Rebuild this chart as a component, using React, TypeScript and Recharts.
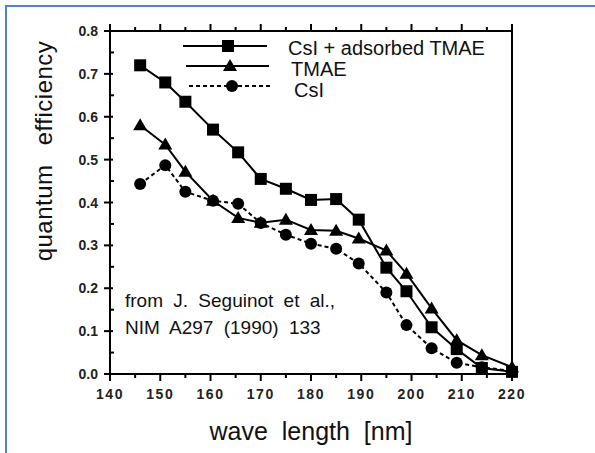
import { LineChart, Line, XAxis, YAxis, Legend } from 'recharts';

const wavelengths = [146, 151, 155, 160.5, 165.5, 170, 175, 180, 185, 189.5, 195, 199, 204, 209, 214, 220];
const csiTmae = [0.72, 0.68, 0.635, 0.57, 0.517, 0.455, 0.432, 0.406, 0.408, 0.36, 0.248, 0.193, 0.109, 0.058, 0.014, 0.005];
const tmae = [0.58, 0.535, 0.472, 0.404, 0.364, 0.353, 0.36, 0.336, 0.334, 0.316, 0.288, 0.234, 0.153, 0.079, 0.044, 0.016];
const csi = [0.443, 0.487, 0.425, 0.404, 0.397, 0.352, 0.325, 0.304, 0.292, 0.258, 0.19, 0.114, 0.06, 0.026, 0.016, 0.007];

const xTicks = [140, 145, 150, 155, 160, 165, 170, 175, 180, 185, 190, 195, 200, 205, 210, 215, 220];
const yTicks = [0, 0.05, 0.1, 0.15, 0.2, 0.25, 0.3, 0.35, 0.4, 0.45, 0.5, 0.55, 0.6, 0.65, 0.7, 0.75, 0.8];

const data = wavelengths.map((w, i) => ({ w, csiTmae: csiTmae[i], tmae: tmae[i], csi: csi[i] }));

const font = '"Liberation Sans", Arial, sans-serif';

const isMajorX = (v: number) => v % 10 === 0;
const isMajorY = (v: number) => Math.abs(Math.round(v * 10) - v * 10) < 1e-6;

const BottomTick = ({ x, y, payload }: any) => {
  const major = isMajorX(payload.value);
  return (
    <g>
      <line x1={x} x2={x} y1={y} y2={y + (major ? 7 : 4)} stroke="#000" strokeWidth={2} />
      {major && (
        <text x={x} y={y + 25} textAnchor="middle" fontFamily={font} fontSize={14} fontWeight="bold" letterSpacing={1.5} fill="#222">
          {payload.value}
        </text>
      )}
    </g>
  );
};

const TopTick = ({ x, y, payload }: any) => {
  const major = isMajorX(payload.value);
  return <line x1={x} x2={x} y1={y} y2={y - (major ? 7 : 4)} stroke="#000" strokeWidth={2} />;
};

const LeftTick = ({ x, y, payload }: any) => {
  const major = isMajorY(payload.value);
  return (
    <g>
      <line x1={major ? x - 6 : x} x2={x + (major ? 3 : 4)} y1={y} y2={y} stroke="#000" strokeWidth={2} />
      {major && (
        <text x={x - 12} y={y + 5} textAnchor="end" fontFamily={font} fontSize={14} fontWeight="bold" fill="#222">
          {payload.value.toFixed(1)}
        </text>
      )}
    </g>
  );
};

const RightTick = ({ x, y, payload }: any) => {
  const major = isMajorY(payload.value);
  return <line x1={x} x2={x + (major ? 7 : 4)} y1={y} y2={y} stroke="#000" strokeWidth={2} />;
};

const Square = (props: any) => {
  const { cx, cy, index } = props;
  return <rect key={`sq-${index}`} x={cx - 6} y={cy - 6} width={12} height={12} fill="#000" />;
};

const Triangle = (props: any) => {
  const { cx, cy, index } = props;
  return <polygon key={`tr-${index}`} points={`${cx},${cy - 7} ${cx - 7},${cy + 5} ${cx + 7},${cy + 5}`} fill="#000" />;
};

const Circle = (props: any) => {
  const { cx, cy, index } = props;
  return <circle key={`ci-${index}`} cx={cx} cy={cy} r={6} fill="#000" />;
};

const legendRows = [
  { name: 'CsI + adsorbed TMAE', dash: undefined, marker: 'square' },
  { name: 'TMAE', dash: undefined, marker: 'triangle' },
  { name: 'CsI', dash: '4 3', marker: 'circle' },
];

const LegendBox = () => (
  <svg width={380} height={70}>
    {legendRows.map((r, i) => {
      const cy = 11 + i * 20;
      const mx = 53 + i * 2;
      return (
        <g key={r.name}>
          <line x1={8 + i * 3} x2={92 + i * 2} y1={cy} y2={cy} stroke="#000" strokeWidth={2} strokeDasharray={r.dash} />
          {r.marker === 'square' && <rect x={mx - 6} y={cy - 6} width={12} height={12} fill="#000" />}
          {r.marker === 'triangle' && <polygon points={`${mx},${cy - 7} ${mx - 7},${cy + 5} ${mx + 7},${cy + 5}`} fill="#000" />}
          {r.marker === 'circle' && <circle cx={mx} cy={cy} r={6} fill="#000" />}
          <text x={113 + i * 3} y={cy + 9 + i} fontFamily={font} fontSize={20} fill="#111">
            {r.name}
          </text>
        </g>
      );
    })}
  </svg>
);

export default function App() {
  return (
    <div style={{ position: 'fixed', left: 0, top: 0, width: 595, height: 453, background: '#fff', overflow: 'hidden' }}>
      <div style={{ position: 'absolute', left: 5, top: 5, width: 600, height: 460, borderLeft: '2px solid #4a86c8', borderTop: '2px solid #4a86c8' }} />
      <LineChart width={595} height={453} data={data} margin={{ top: 21, right: 73, bottom: 49, left: 50 }}>
        <XAxis xAxisId="b" dataKey="w" type="number" domain={[140, 220]} ticks={xTicks} interval={0}
          height={30} tickSize={0} tickMargin={0} tickLine={false} axisLine={{ stroke: '#000', strokeWidth: 2 }} tick={<BottomTick />} />
        <XAxis xAxisId="t" dataKey="w" type="number" orientation="top" domain={[140, 220]} ticks={xTicks} interval={0}
          height={10} tickSize={0} tickMargin={0} tickLine={false} axisLine={{ stroke: '#000', strokeWidth: 2 }} tick={<TopTick />} />
        <YAxis yAxisId="l" type="number" domain={[0, 0.8]} ticks={yTicks} interval={0}
          width={60} tickSize={0} tickMargin={0} tickLine={false} axisLine={{ stroke: '#000', strokeWidth: 2 }} tick={<LeftTick />} />
        <YAxis yAxisId="r" type="number" orientation="right" domain={[0, 0.8]} ticks={yTicks} interval={0}
          width={10} tickSize={0} tickMargin={0} tickLine={false} axisLine={{ stroke: '#000', strokeWidth: 2 }} tick={<RightTick />} />
        <Legend layout="vertical" align="center" verticalAlign="middle" content={<LegendBox />}
          wrapperStyle={{ position: 'absolute', left: 175, top: 35, width: 380 }} />
        <Line xAxisId="b" yAxisId="l" dataKey="csiTmae" name="CsI + adsorbed TMAE" stroke="#000" strokeWidth={2} dot={Square} isAnimationActive={false} />
        <Line xAxisId="b" yAxisId="l" dataKey="tmae" name="TMAE" stroke="#000" strokeWidth={2} dot={Triangle} isAnimationActive={false} />
        <Line xAxisId="b" yAxisId="l" dataKey="csi" name="CsI" stroke="#000" strokeWidth={2} strokeDasharray="4 3" dot={Circle} isAnimationActive={false} />
      </LineChart>
      <div style={{ position: 'absolute', left: 125, top: 287, fontFamily: font, fontSize: 19, lineHeight: '27px', color: '#111', wordSpacing: 5 }}>
        from J. Seguinot et al.,<br />NIM A297 (1990) 133
      </div>
      <div style={{ position: 'absolute', left: 110, width: 402, top: 417, textAlign: 'center', fontFamily: font, fontSize: 25, color: '#111', wordSpacing: 7 }}>
        wave length [nm]
      </div>
      <div style={{ position: 'absolute', left: 44, top: 151, width: 0, height: 0 }}>
        <div style={{ position: 'absolute', transform: 'translate(-50%, -50%) rotate(-90deg)', whiteSpace: 'nowrap', fontFamily: font, fontSize: 24, color: '#111', wordSpacing: 12, letterSpacing: 0.5 }}>
          quantum efficiency
        </div>
      </div>
    </div>
  );
}
